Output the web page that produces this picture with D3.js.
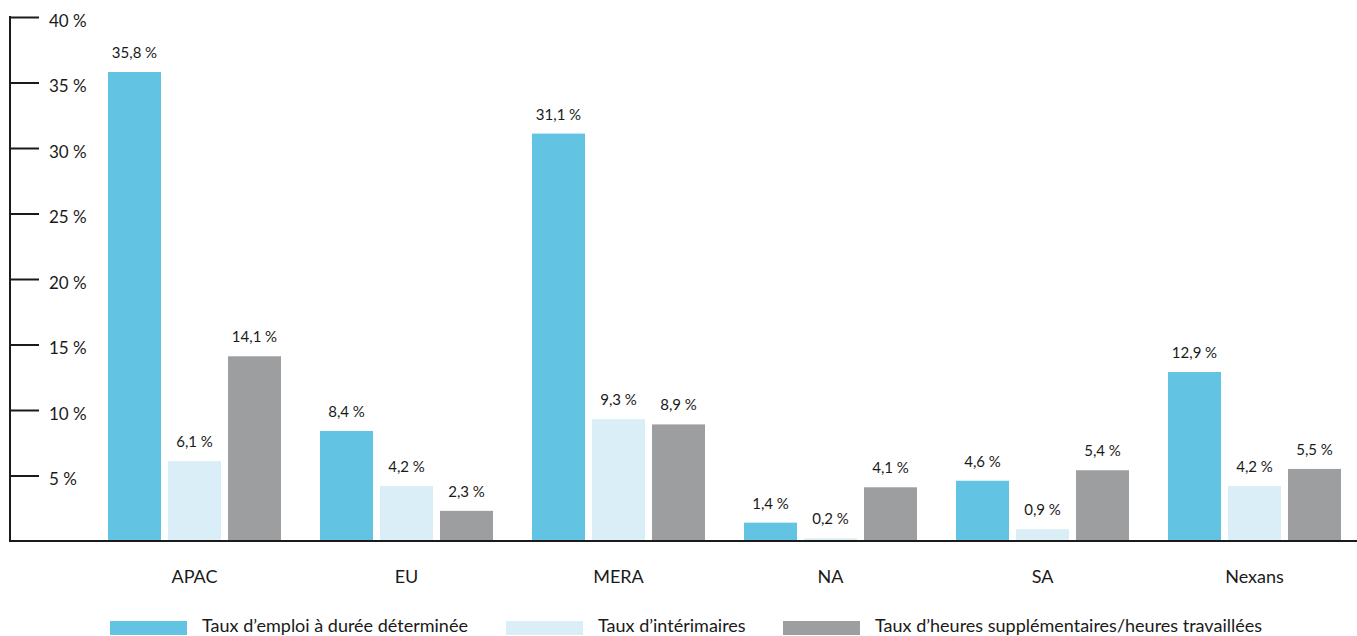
<!DOCTYPE html>
<html lang="fr">
<head>
<meta charset="utf-8">
<script src="https://cdn.jsdelivr.net/npm/d3@7"></script>
<style>
  html, body { margin: 0; padding: 0; background: #fff; }
  svg { display: block; }
  text { font-family: Lato, "Open Sans", sans-serif; fill: #1a1a1a; }
</style>
</head>
<body>
<svg id="chart" width="1357" height="636"></svg>
<script>
// Regions and rates per region (%)
const categories = ["APAC", "EU", "MERA", "NA", "SA", "Nexans"];
const seriesNames = [
  "Taux d\u2019emploi à durée déterminée",
  "Taux d\u2019intérimaires",
  "Taux d\u2019heures supplémentaires/heures travaillées"
];
const fixedTerm = [35.8, 8.4, 31.1, 1.4, 4.6, 12.9];
const temporary = [6.1, 4.2, 9.3, 0.2, 0.9, 4.2];
const overtime  = [14.1, 2.3, 8.9, 4.1, 5.4, 5.5];
const yTicks = [5, 10, 15, 20, 25, 30, 35, 40];
const colors = ["#62c4e2", "#d9eef7", "#9d9ea0"];

const series = [fixedTerm, temporary, overtime];
const fmt = v => v.toFixed(1).replace(".", ",") + "\u202f%";

const svg = d3.select("#chart");
const W = 1357;
const axisX = 10, baseY = 541, topY = 17;

const y = d3.scaleLinear().domain([0, 40]).range([baseY, topY]);

const x0 = d3.scaleBand()
  .domain(categories)
  .range([88.5, 88.5 + 6 * 212])
  .paddingInner(39 / 212)
  .paddingOuter(39 / 212 / 2);

const x1 = d3.scaleBand()
  .domain(d3.range(seriesNames.length))
  .range([0, x0.bandwidth()])
  .paddingInner(7 / 60)
  .paddingOuter(0);

// Bars
const groups = svg.append("g").selectAll("g")
  .data(categories)
  .join("g")
  .attr("transform", d => `translate(${x0(d)},0)`);

groups.selectAll("rect")
  .data((c, i) => series.map((s, k) => ({ k, v: s[i] })))
  .join("rect")
  .attr("x", d => x1(d.k))
  .attr("width", x1.bandwidth())
  .attr("y", d => y(d.v))
  .attr("height", d => baseY - y(d.v))
  .attr("fill", d => colors[d.k]);

// Value labels
groups.selectAll("text.val")
  .data((c, i) => series.map((s, k) => ({ k, v: s[i] })))
  .join("text")
  .attr("class", "val")
  .attr("x", d => x1(d.k) + x1.bandwidth() / 2)
  .attr("y", d => y(d.v) - 14)
  .attr("text-anchor", "middle")
  .style("font-size", "15px")
  .text(d => fmt(d.v));

// Y axis
const yAxis = d3.axisRight(y)
  .tickValues(yTicks)
  .tickSize(29)
  .tickPadding(10)
  .tickFormat(d => d + " %");

const gy = svg.append("g")
  .attr("transform", `translate(${axisX},0)`)
  .call(yAxis);
gy.select(".domain").remove();
gy.selectAll(".tick line").attr("stroke", "#1a1a1a").attr("stroke-width", 2);
gy.selectAll(".tick text")
  .attr("dy", "0.55em")
  .style("font-size", "17px")
  .style("font-family", "Lato, 'Open Sans', sans-serif")
  .attr("fill", "#1a1a1a");

svg.append("line")
  .attr("x1", axisX).attr("x2", axisX)
  .attr("y1", y(40) - 1).attr("y2", baseY + 1)
  .attr("stroke", "#1a1a1a").attr("stroke-width", 2);

// Baseline
svg.append("line")
  .attr("x1", axisX - 1).attr("x2", W)
  .attr("y1", baseY).attr("y2", baseY)
  .attr("stroke", "#1a1a1a").attr("stroke-width", 2);

// Category labels
svg.append("g").selectAll("text")
  .data(categories)
  .join("text")
  .attr("x", d => x0(d) + x0.bandwidth() / 2)
  .attr("y", 583)
  .attr("text-anchor", "middle")
  .style("font-size", "18px")
  .text(d => d);

// Legend
const legendX = [110, 506, 783];
const legend = svg.append("g").selectAll("g")
  .data(seriesNames)
  .join("g")
  .attr("transform", (d, i) => `translate(${legendX[i]},621)`);
legend.append("rect")
  .attr("width", 77).attr("height", 14)
  .attr("fill", (d, i) => colors[i]);
legend.append("text")
  .attr("x", 92)
  .attr("y", 11)
  .style("font-size", "18px")
  .text(d => d);
</script>
</body>
</html>
